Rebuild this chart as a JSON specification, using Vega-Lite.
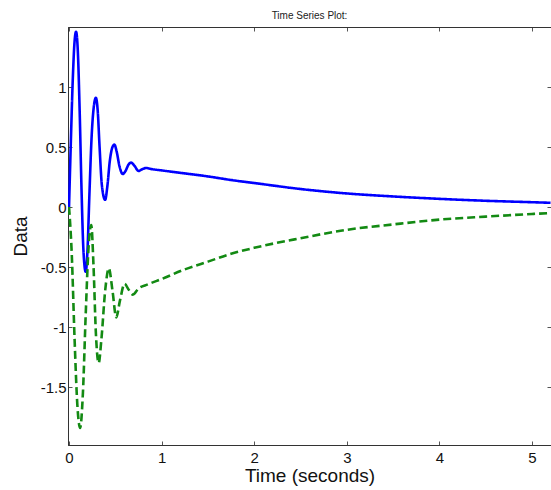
{
  "$schema": "https://vega.github.io/schema/vega-lite/v6.json",
  "width": 483,
  "height": 418,
  "autosize": {"type": "none"},
  "padding": {"left": 68, "top": 27, "right": 0, "bottom": 45},
  "background": "white",
  "title": {"text": "Time Series Plot:", "fontSize": 10, "font": "Liberation Sans", "fontWeight": "normal", "color": "#222", "offset": 6, "anchor": "middle"},
  "config": {
    "view": {"stroke": "#333", "strokeWidth": 1},
    "font": "Liberation Sans"
  },
  "datasets": {
    "series": [
      {"t": 0, "v": 0, "s": "A"},
      {"t": 0.02, "v": 0.55, "s": "A"},
      {"t": 0.04, "v": 1.05, "s": "A"},
      {"t": 0.06, "v": 1.38, "s": "A"},
      {"t": 0.076, "v": 1.46, "s": "A"},
      {"t": 0.095, "v": 1.3, "s": "A"},
      {"t": 0.115, "v": 0.8, "s": "A"},
      {"t": 0.135, "v": 0.15, "s": "A"},
      {"t": 0.155, "v": -0.35, "s": "A"},
      {"t": 0.18, "v": -0.54, "s": "A"},
      {"t": 0.2, "v": -0.35, "s": "A"},
      {"t": 0.22, "v": 0.1, "s": "A"},
      {"t": 0.245, "v": 0.6, "s": "A"},
      {"t": 0.27, "v": 0.85, "s": "A"},
      {"t": 0.29, "v": 0.91, "s": "A"},
      {"t": 0.31, "v": 0.8, "s": "A"},
      {"t": 0.33, "v": 0.5, "s": "A"},
      {"t": 0.355, "v": 0.18, "s": "A"},
      {"t": 0.39, "v": 0.06, "s": "A"},
      {"t": 0.415, "v": 0.18, "s": "A"},
      {"t": 0.44, "v": 0.38, "s": "A"},
      {"t": 0.465, "v": 0.49, "s": "A"},
      {"t": 0.49, "v": 0.52, "s": "A"},
      {"t": 0.515, "v": 0.46, "s": "A"},
      {"t": 0.545, "v": 0.34, "s": "A"},
      {"t": 0.58, "v": 0.275, "s": "A"},
      {"t": 0.61, "v": 0.3, "s": "A"},
      {"t": 0.64, "v": 0.35, "s": "A"},
      {"t": 0.67, "v": 0.37, "s": "A"},
      {"t": 0.71, "v": 0.34, "s": "A"},
      {"t": 0.75, "v": 0.3, "s": "A"},
      {"t": 0.79, "v": 0.315, "s": "A"},
      {"t": 0.83, "v": 0.325, "s": "A"},
      {"t": 0.9, "v": 0.315, "s": "A"},
      {"t": 1.0, "v": 0.305, "s": "A"},
      {"t": 1.25, "v": 0.28, "s": "A"},
      {"t": 1.5, "v": 0.255, "s": "A"},
      {"t": 1.75, "v": 0.225, "s": "A"},
      {"t": 2.0, "v": 0.2, "s": "A"},
      {"t": 2.5, "v": 0.15, "s": "A"},
      {"t": 3.0, "v": 0.113, "s": "A"},
      {"t": 3.5, "v": 0.088, "s": "A"},
      {"t": 4.0, "v": 0.068, "s": "A"},
      {"t": 4.5, "v": 0.052, "s": "A"},
      {"t": 5.0, "v": 0.04, "s": "A"},
      {"t": 5.2, "v": 0.035, "s": "A"},
      {"t": 0, "v": 0, "s": "B"},
      {"t": 0.03, "v": -0.4, "s": "B"},
      {"t": 0.06, "v": -1.1, "s": "B"},
      {"t": 0.09, "v": -1.65, "s": "B"},
      {"t": 0.12, "v": -1.84, "s": "B"},
      {"t": 0.15, "v": -1.55, "s": "B"},
      {"t": 0.18, "v": -0.9, "s": "B"},
      {"t": 0.21, "v": -0.35, "s": "B"},
      {"t": 0.24, "v": -0.15, "s": "B"},
      {"t": 0.265, "v": -0.5, "s": "B"},
      {"t": 0.29, "v": -1.05, "s": "B"},
      {"t": 0.32, "v": -1.3, "s": "B"},
      {"t": 0.35, "v": -1.1, "s": "B"},
      {"t": 0.39, "v": -0.7, "s": "B"},
      {"t": 0.43, "v": -0.51, "s": "B"},
      {"t": 0.47, "v": -0.7, "s": "B"},
      {"t": 0.51, "v": -0.92, "s": "B"},
      {"t": 0.55, "v": -0.78, "s": "B"},
      {"t": 0.6, "v": -0.64, "s": "B"},
      {"t": 0.645, "v": -0.69, "s": "B"},
      {"t": 0.69, "v": -0.73, "s": "B"},
      {"t": 0.75, "v": -0.68, "s": "B"},
      {"t": 0.85, "v": -0.645, "s": "B"},
      {"t": 1.0, "v": -0.6, "s": "B"},
      {"t": 1.25, "v": -0.52, "s": "B"},
      {"t": 1.5, "v": -0.455, "s": "B"},
      {"t": 1.75, "v": -0.39, "s": "B"},
      {"t": 2.0, "v": -0.34, "s": "B"},
      {"t": 2.5, "v": -0.26, "s": "B"},
      {"t": 3.0, "v": -0.19, "s": "B"},
      {"t": 3.5, "v": -0.145, "s": "B"},
      {"t": 4.0, "v": -0.105, "s": "B"},
      {"t": 4.5, "v": -0.08, "s": "B"},
      {"t": 5.0, "v": -0.058, "s": "B"},
      {"t": 5.2, "v": -0.05, "s": "B"}
    ]
  },
  "data": {"name": "series"},
  "resolve": {"axis": {"x": "independent", "y": "independent"}},
  "layer": [
    {
      "mark": {"type": "line", "strokeWidth": 2.6, "interpolate": "monotone", "clip": true},
      "encoding": {
        "x": {
          "field": "t", "type": "quantitative",
          "scale": {"domain": [-0.011, 5.205], "nice": false, "zero": false},
          "axis": {
            "title": "Time (seconds)", "titleFontSize": 19, "titleFontWeight": "normal", "titleColor": "#111", "titlePadding": 1,
            "values": [0, 1, 2, 3, 4, 5], "labelExpr": "datum.value + ''", "labelFontSize": 15, "labelColor": "#111", "labelPadding": 9,
            "tickSize": -4, "tickColor": "#555", "domainColor": "#333", "grid": false, "labelFlush": false
          }
        },
        "y": {
          "field": "v", "type": "quantitative",
          "scale": {"domain": [-1.983, 1.5], "nice": false, "zero": false},
          "axis": {
            "title": "Data", "titleFontSize": 19, "titleFontWeight": "normal", "titleColor": "#111", "titlePadding": 10,
            "values": [-1.5, -1, -0.5, 0, 0.5, 1], "labelExpr": "datum.value + ''", "labelFontSize": 15, "labelColor": "#111", "labelPadding": 6,
            "tickSize": -4, "tickColor": "#555", "domainColor": "#333", "grid": false
          }
        },
        "color": {"field": "s", "type": "nominal", "scale": {"domain": ["A", "B"], "range": ["#0000ff", "#138a13"]}, "legend": null},
        "strokeDash": {"field": "s", "type": "nominal", "scale": {"domain": ["A", "B"], "range": [[1, 0], [8, 4]]}, "legend": null}
      }
    },
    {
      "mark": {"type": "point", "opacity": 0},
      "encoding": {
        "x": {
          "field": "t", "type": "quantitative",
          "axis": {"orient": "top", "title": null, "labels": false, "values": [0, 1, 2, 3, 4, 5], "tickSize": -4, "tickColor": "#555", "domainColor": "#333", "grid": false}
        },
        "y": {
          "field": "v", "type": "quantitative",
          "axis": {"orient": "right", "title": null, "labels": false, "values": [-1.5, -1, -0.5, 0, 0.5, 1], "tickSize": -4, "tickColor": "#555", "domainColor": "#333", "grid": false}
        }
      }
    }
  ]
}
